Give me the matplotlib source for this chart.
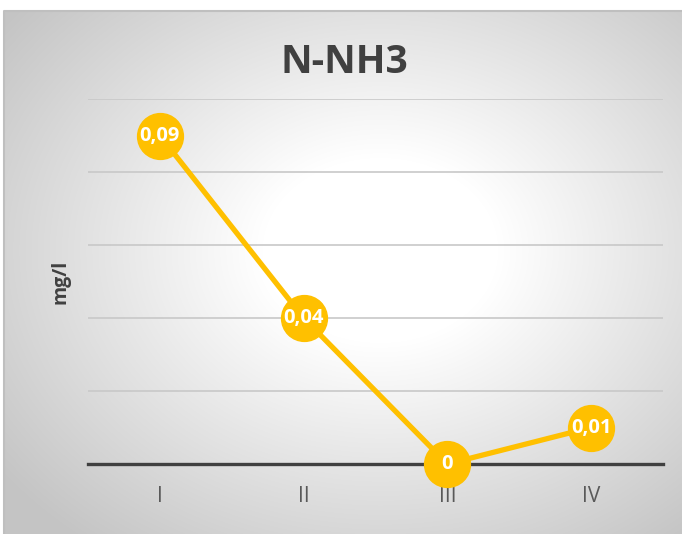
import numpy as np
import matplotlib
matplotlib.use("Agg")
import matplotlib.pyplot as plt

# data
categories = ["I", "II", "III", "IV"]
values = [0.09, 0.04, 0.0, 0.01]
title = "N-NH3"
ylabel = "mg/l"

plt.rcParams["font.family"] = ["Open Sans", "DejaVu Sans"]

W, H = 682, 534
fig = plt.figure(figsize=(W / 100, H / 100), dpi=100)

# background: grey radial gradient inside the chart frame
bg = fig.add_axes([0, 0, 1, 1])
yy, xx = np.mgrid[0:H, 0:W]
cx, cy = 380, 250
r = np.sqrt(((xx - cx) / 420.0) ** 2 + ((yy - cy) / 330.0) ** 2)
g = 1.0 - 0.23 * np.clip((r - 0.28) / 0.85, 0, 1)
img = np.dstack([g, g, g])
img[:10, :, :] = 1.0
img[:, :4, :] = 1.0
bg.imshow(img, extent=[0, W, H, 0], aspect="auto", interpolation="bilinear")
bg.plot([4, 4, W], [H, 10.5, 10.5], color="#bfbfbf", lw=1.5)
bg.set_xlim(0, W)
bg.set_ylim(H, 0)
bg.axis("off")

left, right, top, bottom = 88, 663, 99, 464
ax = fig.add_axes([left / W, 1 - bottom / H, (right - left) / W, (bottom - top) / H])
ax.patch.set_alpha(0)

x = np.arange(len(categories)) + 0.5
ax.set_xlim(0, len(categories))
ax.set_ylim(0, 0.10)
ax.set_yticks(np.arange(0, 0.101, 0.02))
ax.yaxis.grid(True, color="#c8c8c8", lw=1.2)
ax.set_axisbelow(True)
for s in ["top", "right", "left"]:
    ax.spines[s].set_visible(False)
ax.spines["bottom"].set_color("#404040")
ax.spines["bottom"].set_linewidth(2.4)
ax.spines["bottom"].set_zorder(2)
ax.tick_params(axis="y", left=False, labelleft=False)
ax.set_xticks(x)
ax.set_xticklabels(categories, fontsize=15, color="#595959")
ax.tick_params(axis="x", length=0, pad=16)

ax.plot(x, values, color="#FFC000", lw=3.8, marker="o", markersize=33,
        markerfacecolor="#FFC000", markeredgecolor="#FFC000", zorder=3, clip_on=False)
for xi, v in zip(x, values):
    ax.text(xi, v, f"{v:g}".replace(".", ","), ha="center", va="center",
            color="white", fontsize=14.5, fontweight="bold", zorder=4)

ax.set_ylabel(ylabel, fontsize=14, fontweight="bold", color="#404040")
ax.yaxis.set_label_coords(-0.03, 0.5)

fig.text(344 / W, 1 - 62 / H, title, ha="center", va="center",
         fontsize=28, fontweight="bold", color="#404040")

fig.savefig("out.png", dpi=100)
